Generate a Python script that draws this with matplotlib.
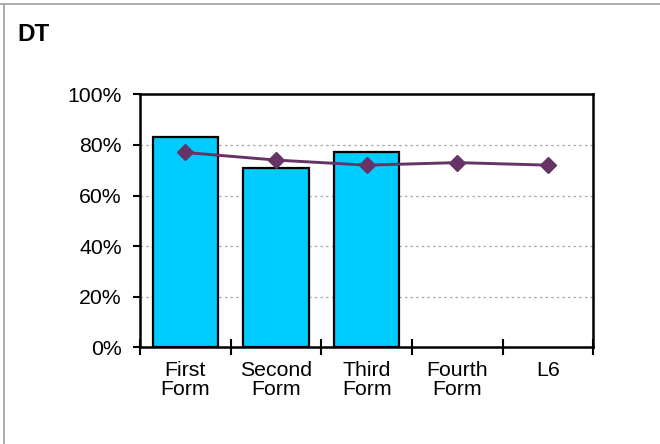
import matplotlib
matplotlib.use("Agg")
import matplotlib.pyplot as plt
from matplotlib.lines import Line2D
import numpy as np

plt.rcParams['font.family'] = ['Liberation Sans', 'DejaVu Sans']

title = "DT"
categories = ["First\nForm", "Second\nForm", "Third\nForm", "Fourth\nForm", "L6"]
bar_values = [83, 71, 77, np.nan, np.nan]
line_values = [77, 74, 72, 73, 72]
y_ticks = [0, 20, 40, 60, 80, 100]
y_tick_labels = ["0%", "20%", "40%", "60%", "80%", "100%"]

fig = plt.figure(figsize=(6.6, 4.44), dpi=100)
ax = fig.add_axes([140 / 660, 1 - 347.3 / 444, 453.3 / 660, 253 / 444])

x = np.arange(len(categories))
ax.bar(x, bar_values, width=0.72, color="#00CCFF", edgecolor="black",
       linewidth=1.6, zorder=2)
ax.plot(x, line_values, color="#663366", linewidth=2.1, marker="D",
        markersize=8, zorder=3)

ax.set_xlim(-0.5, len(categories) - 0.5)
ax.set_ylim(0, 100)

ax.set_yticks(y_ticks)
ax.set_yticklabels(y_tick_labels, fontsize=15.3)
ax.tick_params(axis="y", direction="out", length=5, width=1.5, pad=8)

# category boundaries carry the ticks, labels sit at the centres
ax.set_xticks(np.arange(len(categories) + 1) - 0.5)
ax.set_xticklabels([])
ax.set_xticks(x, minor=True)
ax.set_xticklabels(categories, minor=True, fontsize=15.3, linespacing=1.0)
ax.tick_params(axis="x", which="major", direction="inout", length=11, width=1.5)
ax.tick_params(axis="x", which="minor", length=0, pad=10)

for v in y_ticks[1:-1]:
    ax.axhline(v, color="#a8a8a8", linewidth=0.9, linestyle=(0, (2, 2.5)),
               zorder=1)

for s in ax.spines.values():
    s.set_linewidth(1.8)
    s.set_color("black")

# outer frame: top and left edges
fig.add_artist(Line2D([0, 1], [1 - 4 / 444, 1 - 4 / 444], color="#a0a0a0",
                      linewidth=1.2, transform=fig.transFigure))
fig.add_artist(Line2D([4 / 660, 4 / 660], [0, 1 - 4 / 444], color="#a0a0a0",
                      linewidth=1.2, transform=fig.transFigure))

fig.text(17 / 660, 1 - 41 / 444, title, fontsize=17.5, fontweight="bold",
         va="baseline", ha="left")

fig.savefig("out.png", dpi=100)
